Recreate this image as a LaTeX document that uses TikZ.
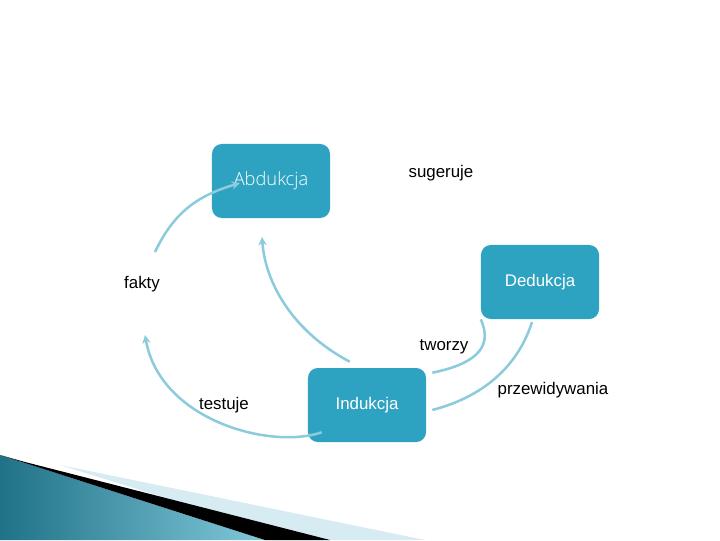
\documentclass[tikz,border=0pt]{standalone}
\usepackage{fontspec}
\setmainfont{Liberation Sans}
\newfontfamily\lightfont{Open Sans Light}
\usetikzlibrary{arrows.meta}
\definecolor{boxblue}{HTML}{2DA3C1}
\definecolor{arcblue}{HTML}{8CCBDC}
\definecolor{paleblue}{HTML}{D6EBF2}
\tikzset{
  stepbox/.style={fill=boxblue, rounded corners=7pt, minimum width=2.95cm,
    minimum height=1.85cm, text=white, font=\fontsize{12}{14}\selectfont},
  label/.style={font=\fontsize{12}{14}\selectfont},
  arc/.style={draw=arcblue, line width=1.8pt},
  arcarrow/.style={arc, -{Stealth[length=6pt,width=6pt]}}
}
\begin{document}
\begin{tikzpicture}[x=0.025cm, y=-0.025cm]
            \useasboundingbox (0,0) rectangle (720,540);
            % corner decoration
            \shade[left color=boxblue!70!black, right color=boxblue!60!white]
              (0,455) -- (265,540) -- (0,540) -- cycle;
            \fill[paleblue] (60,465) -- (425,540) -- (300,540) -- cycle;
            \fill[black] (25,462) -- (330,540) -- (265,540) -- (0,455) -- cycle;

            \node[stepbox, font=\lightfont\fontsize{13}{15}\selectfont] (abd) at (271,181) {Abdukcja};
            \node[stepbox] (ded) at (540,282) {Dedukcja};
            \node[stepbox] (ind) at (367,405) {Indukcja};

            \node[label] (sug) at (441,173) {sugeruje};
            \node[label] (fak) at (142,284) {fakty};
            \node[label] (two) at (444,347) {tworzy};
            \node[label] (tes) at (224,405) {testuje};
            \node[label] (prz) at (553,390) {przewidywania};

            \coordinate (a1) at (155,252);
            \coordinate (a2) at (240,183);
            \coordinate (b1) at (262,237);
            \coordinate (c1) at (145,335);

            \draw[arcarrow] (a1) .. controls (175,210) and (200,195) .. (a2); % fakty-abd
            \draw[arcarrow] (ind.north west) ++(42,-6) .. controls (290,330) and (265,280) .. (b1); % ind-abd
            \draw[arcarrow] (ind.south west) ++(14,-10) .. controls (270,450) and (160,420) .. (c1); % ind-fakty
            \draw[arc] (ind.north east) ++(6,5) .. controls (470,365) and (495,350) .. (ded.south west) ++(29,-13); % ind-ded
            \draw[arc] (ind.east) ++(6,5) .. controls (490,395) and (520,360) .. (532,322); % ded-ind
        \end{tikzpicture}
\end{document}
